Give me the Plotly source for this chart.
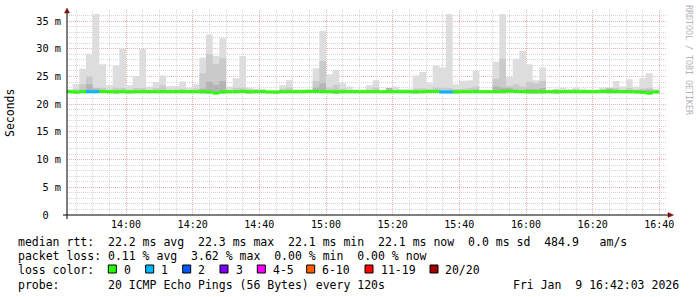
import plotly.graph_objects as go
import pandas as pd

# ---------------- data ----------------
bin_start = "2026-01-09 13:42:00"
step_seconds = 120
axis_start = "2026-01-09 13:42:18"
axis_end = "2026-01-09 16:42:18"

rtt_max = [22.7, 23.6, 26.4, 29.1, 36.3, 27.2, 23.4, 27.0, 30.0, 23.4,
           25.1, 30.0, 23.2, 24.0, 25.2, 23.2, 23.3, 24.1, 23.0, 23.6,
           28.4, 32.6, 28.7, 31.9, 23.2, 24.7, 28.7, 23.0, 22.8, 22.8,
           22.5, 22.5, 23.4, 24.3, 22.7, 22.7, 22.7, 26.5, 33.2, 25.4,
           26.2, 23.8, 23.2, 22.7, 22.7, 23.4, 24.3, 22.5, 23.0, 23.2,
           22.7, 22.8, 25.2, 25.8, 23.8, 27.0, 26.6, 36.3, 23.6, 24.2,
           24.3, 26.1, 22.5, 22.6, 27.7, 36.3, 24.9, 28.2, 29.6, 27.2,
           24.3, 26.6, 22.6, 22.8, 23.0, 22.8, 23.0, 22.8, 22.6, 22.7,
           23.0, 23.0, 24.2, 23.2, 24.5, 23.2, 24.7, 25.6, 22.8]

rtt_upper = [22.5, 22.7, 23.6, 25.0, 23.0, 22.9, 22.6, 23.0, 22.9, 22.6,
             22.9, 22.9, 22.6, 22.9, 23.4, 22.6, 22.7, 22.8, 22.6, 22.8,
             25.6, 29.0, 27.2, 28.3, 22.6, 22.9, 23.0, 22.7, 22.6, 22.6,
             22.4, 22.4, 22.8, 23.0, 22.5, 22.5, 22.5, 24.2, 27.8, 23.0,
             23.5, 22.8, 22.6, 22.5, 22.5, 22.7, 23.0, 22.4, 22.8, 22.6,
             22.5, 22.5, 22.8, 22.9, 22.7, 23.0, 23.0, 22.9, 22.7, 22.8,
             22.9, 23.2, 22.4, 22.4, 24.6, 28.2, 23.3, 23.6, 23.2, 24.0,
             23.8, 24.2, 22.5, 22.6, 22.6, 22.6, 22.7, 22.5, 22.5, 22.5,
             22.7, 22.9, 22.9, 22.6, 22.9, 22.6, 22.8, 22.9, 22.5]

rtt_inner = [22.3, 22.4, 22.6, 23.6, 22.8, 22.4, 22.3, 22.4, 22.4, 22.3,
             22.4, 22.4, 22.3, 22.4, 22.6, 22.3, 22.3, 22.4, 22.3, 22.4,
             22.8, 24.0, 23.5, 24.2, 22.3, 22.4, 22.4, 22.3, 22.3, 22.3,
             22.3, 22.3, 22.4, 22.5, 22.3, 22.3, 22.3, 23.0, 23.8, 22.4,
             22.6, 22.4, 22.3, 22.3, 22.3, 22.4, 22.5, 22.3, 22.9, 22.4,
             22.3, 22.3, 22.4, 22.4, 22.4, 22.5, 22.4, 22.4, 22.4, 22.4,
             22.4, 22.6, 22.3, 22.3, 23.2, 23.0, 22.9, 22.6, 22.5, 22.8,
             22.7, 22.9, 22.3, 22.6, 22.4, 22.4, 22.4, 22.3, 22.3, 22.3,
             22.4, 22.8, 22.5, 22.4, 22.5, 22.4, 22.5, 22.6, 22.3]

rtt_min = [22.05, 21.85, 22.05, 22.05, 22.05, 22.05, 22.05, 21.85, 22.05, 21.9,
           22.05, 22.05, 22.05, 22.05, 22.05, 22.05, 22.05, 22.05, 22.05, 22.05,
           21.95, 21.95, 21.85, 21.9, 22.05, 22.05, 22.05, 21.85, 22.05, 22.05,
           22.05, 21.85, 22.05, 22.05, 22.05, 22.05, 22.05, 22.05, 22.05, 22.05,
           21.85, 22.05, 22.05, 22.05, 22.05, 22.05, 22.05, 22.05, 22.05, 22.05,
           22.05, 22.05, 21.85, 22.05, 22.05, 22.05, 22.05, 22.05, 21.85, 22.05,
           22.05, 22.05, 22.05, 22.05, 22.05, 21.9, 22.05, 22.05, 22.05, 21.9,
           21.9, 21.9, 22.05, 21.9, 22.05, 22.05, 22.05, 22.05, 22.05, 22.05,
           22.05, 21.9, 22.05, 22.05, 22.05, 22.05, 21.9, 21.8, 22.05]

rtt_median = [22.25, 22.2, 22.25, 22.25, 22.25, 22.3, 22.25, 22.25, 22.25, 22.25,
              22.25, 22.25, 22.25, 22.25, 22.25, 22.25, 22.25, 22.25, 22.25, 22.25,
              22.25, 22.2, 22.0, 22.2, 22.25, 22.25, 22.3, 22.25, 22.25, 22.25,
              22.2, 22.2, 22.25, 22.25, 22.25, 22.25, 22.3, 22.3, 22.25, 22.25,
              22.2, 22.25, 22.25, 22.25, 22.25, 22.25, 22.25, 22.25, 22.25, 22.25,
              22.25, 22.25, 22.25, 22.25, 22.3, 22.3, 22.2, 22.2, 22.25, 22.25,
              22.25, 22.25, 22.25, 22.25, 22.25, 22.3, 22.35, 22.3, 22.25, 22.25,
              22.25, 22.25, 22.25, 22.25, 22.25, 22.25, 22.25, 22.25, 22.25, 22.25,
              22.3, 22.3, 22.25, 22.25, 22.25, 22.2, 22.15, 22.0, 22.2]

loss_count = [0, 0, 0, 1, 1, 0, 0, 0, 0, 0,
              0, 0, 0, 0, 0, 0, 0, 0, 0, 0,
              0, 0, 0, 0, 0, 0, 0, 0, 0, 0,
              0, 0, 0, 0, 0, 0, 0, 0, 0, 0,
              0, 0, 0, 0, 0, 0, 0, 0, 0, 0,
              0, 0, 0, 0, 0, 0, 1, 1, 0, 0,
              0, 0, 0, 0, 0, 0, 0, 0, 0, 0,
              0, 0, 0, 0, 0, 0, 0, 0, 0, 0,
              0, 0, 0, 0, 0, 0, 0, 0, 0]

loss_labels = ["0", "1", "2", "3", "4-5", "6-10", "11-19", "20/20"]
loss_colors = ["#26ff00", "#00b8ff", "#0059ff", "#7e00ff", "#ff00ff",
               "#ff5e00", "#ff0000", "#a00000"]

y_tickvals = [0, 5, 10, 15, 20, 25, 30, 35]
y_ticktext = ["0\u00a0\u00a0", "5 m", "10 m", "15 m", "20 m", "25 m", "30 m", "35 m"]

legend_lines = [
    "median rtt:  22.2 ms avg  22.3 ms max  22.1 ms min  22.1 ms now  0.0 ms sd  484.9   am/s",
    "packet loss: 0.11 % avg  3.62 % max  0.00 % min  0.00 % now",
    "loss color:",
    "probe:       20 ICMP Echo Pings (56 Bytes) every 120s",
]
timestamp_text = "Fri Jan  9 16:42:03 2026"
watermark = "RRDTOOL / TOBI OETIKER"

# ---------------- layout helpers ----------------
W, H = 697, 297
PL, PR, PT, PB = 67, 667, 10, 215
MONO = "DejaVu Sans Mono"
LEG_SIZE = 11.5


def px(x):
    return (x - PL) / (PR - PL)


def py(y):
    return (PB - y) / (PB - PT)


n = len(rtt_max)
edges = list(pd.date_range(bin_start, periods=n + 1, freq=f"{step_seconds}s"))


def step_xy(vals):
    xs, ys = [], []
    for i, v in enumerate(vals):
        xs += [edges[i], edges[i + 1]]
        ys += [v, v]
    return xs, ys


def band(lo, hi, color):
    xt, yt = step_xy(hi)
    xb, yb = step_xy(lo)
    return go.Scatter(x=xt + xb[::-1], y=yt + yb[::-1], fill="toself",
                      fillcolor=color, line=dict(width=0), mode="lines",
                      hoverinfo="skip", showlegend=False)


fig = go.Figure()
fig.add_trace(band(rtt_min, rtt_max, "#dddddd"))
fig.add_trace(band(rtt_min, rtt_upper, "#cacaca"))
fig.add_trace(band(rtt_median, rtt_inner, "#b4b4b4"))


def loss_class(c):
    if c <= 3:
        return c
    if c <= 5:
        return 4
    if c <= 10:
        return 5
    if c <= 19:
        return 6
    return 7


for k, col in enumerate(loss_colors):
    xs, ys = [], []
    for i in range(n):
        if loss_class(loss_count[i]) == k:
            xs += [edges[i], edges[i + 1], None]
            ys += [rtt_median[i], rtt_median[i], None]
    if xs:
        fig.add_trace(go.Scatter(x=xs, y=ys, mode="lines",
                                 line=dict(color=col, width=3),
                                 hoverinfo="skip", showlegend=False))

shapes = []
annotations = []
AX = dict(xref="paper", yref="paper")
# axis lines
shapes.append(dict(type="line", x0=px(PL), x1=px(PL), y0=py(219), y1=py(12),
                   line=dict(color="black", width=1), layer="above", **AX))
shapes.append(dict(type="line", x0=px(63), x1=px(669), y0=py(PB), y1=py(PB),
                   line=dict(color="black", width=1), layer="above", **AX))
# arrow heads
shapes.append(dict(type="path", **AX, layer="above",
                   path=f"M {px(64.5)} {py(13)} L {px(69.5)} {py(13)} L {px(67)} {py(8)} Z",
                   fillcolor="#7f1010", line=dict(color="#7f1010", width=0.5)))
shapes.append(dict(type="path", **AX, layer="above",
                   path=f"M {px(668)} {py(212.5)} L {px(668)} {py(217.5)} L {px(673.5)} {py(215)} Z",
                   fillcolor="#7f1010", line=dict(color="#7f1010", width=0.5)))

legend_y = [241.5, 256, 270, 284.5]
for txt, yy in zip(legend_lines, legend_y):
    annotations.append(dict(text=txt.replace(" ", "\u00a0"), x=px(16), y=py(yy),
                            xanchor="left", yanchor="middle", showarrow=False,
                            font=dict(family=MONO, size=LEG_SIZE, color="black"), **AX))
annotations.append(dict(text=timestamp_text.replace(" ", "\u00a0"), x=px(681), y=py(legend_y[3]),
                        xanchor="right", yanchor="middle", showarrow=False,
                        font=dict(family=MONO, size=LEG_SIZE, color="black"), **AX))

swatch_x = [108.3, 145.7, 182.7, 220.0, 257.3, 306.7, 365.0, 430.0]
for lab, col, sx in zip(loss_labels, loss_colors, swatch_x):
    shapes.append(dict(type="rect", **AX, x0=px(sx), x1=px(sx + 8), y0=py(273), y1=py(265),
                       fillcolor=col, line=dict(color="black", width=1), layer="above"))
    annotations.append(dict(text=lab, x=px(sx + 13.5), y=py(legend_y[2]), xanchor="left",
                            yanchor="middle", showarrow=False,
                            font=dict(family=MONO, size=LEG_SIZE, color="black"), **AX))

annotations.append(dict(text="Seconds", x=px(10), y=py(113), textangle=-90,
                        xanchor="center", yanchor="middle", showarrow=False,
                        font=dict(family=MONO, size=LEG_SIZE, color="black"), **AX))
annotations.append(dict(text=watermark.replace(" ", "\u00a0"), x=px(689), y=py(60), textangle=90,
                        xanchor="center", yanchor="middle", showarrow=False,
                        font=dict(family=MONO, size=8.3, color="#b4b4b4"), **AX))

fig.update_layout(
    width=W, height=H,
    margin=dict(l=PL, r=W - PR, t=PT, b=H - PB, pad=0),
    paper_bgcolor="white", plot_bgcolor="white",
    showlegend=False,
    shapes=shapes, annotations=annotations,
    xaxis=dict(type="date", range=[axis_start, axis_end], tickformat="%H:%M",
               tick0="2026-01-09 14:00:00", dtick=20 * 60 * 1000,
               showgrid=True, gridcolor="#f0b0b0", griddash="1px,1px", gridwidth=1,
               minor=dict(dtick=5 * 60 * 1000, tick0="2026-01-09 14:00:00", showgrid=True,
                          gridcolor="#d6d6d6", griddash="1px,1px", gridwidth=1),
               ticks="", showline=False, zeroline=False, fixedrange=True,
               tickfont=dict(family=MONO, size=10, color="black"), ticklabelstandoff=2),
    yaxis=dict(range=[0, 37], tickvals=y_tickvals, ticktext=y_ticktext,
               showgrid=True, gridcolor="#f0b0b0", griddash="1px,1px", gridwidth=1,
               minor=dict(dtick=1, tick0=0, showgrid=True,
                          gridcolor="#d6d6d6", griddash="1px,1px", gridwidth=1),
               ticks="", showline=False, zeroline=False, fixedrange=True,
               tickfont=dict(family=MONO, size=10.3, color="black"), ticklabelstandoff=5),
)

fig.write_html("out.html")
